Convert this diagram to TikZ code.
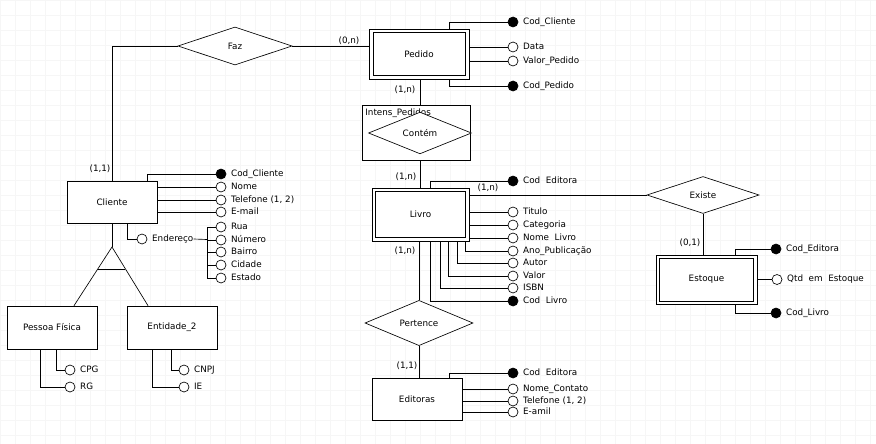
\documentclass[tikz,border=0pt]{standalone}
\usepackage{fontspec}
\setmainfont{DejaVu Sans}
\usetikzlibrary{shapes.geometric,shadows,calc}
\newcommand{\attrib}[5]{%
  \node[#4] (#1) at (#2,#3) {};
  \node[alabel] (#1t) at ([xshift=4.5pt]#1.east) {#5};
}
\begin{document}
\begin{tikzpicture}[x=1pt,y=-1pt, line width=0.65pt, font=\fontsize{8.8}{10}\selectfont,
  ent/.style={draw, fill=white, inner sep=0pt, drop shadow={shadow xshift=1.2pt, shadow yshift=-1.2pt, fill=black!55, opacity=1}},
  rel/.style={draw, fill=white, diamond, inner sep=0pt},
  pk/.style={circle, draw, fill=black, minimum size=10pt, inner sep=0pt},
  attrc/.style={circle, draw, fill=white, minimum size=10pt, inner sep=0pt},
  alabel/.style={anchor=west, inner sep=0pt, text height=6.3pt, text depth=1.6pt},
  card/.style={inner sep=0pt},
  gridc/.style={draw=black!3.5, line width=0.4pt}]
\useasboundingbox (0,0) rectangle (876,444);
\fill[white] (0,0) rectangle (876,444);
\foreach \i in {0,15,...,870} \draw[gridc] (\i,0) -- (\i,444);
\foreach \j in {0,15,...,435} \draw[gridc] (0,\j) -- (876,\j);

% ---------- entities ----------
\node[ent, minimum width=100pt, minimum height=50pt] (pedido) at (419,54) {};
\draw ([shift={(4.5pt,-4pt)}]pedido.north west) rectangle ([shift={(-4.5pt,4pt)}]pedido.south east);
\node at (pedido.center) {Pedido};

\node[ent, minimum width=90pt, minimum height=42pt] (cliente) at (112,202) {Cliente};
\node[ent, minimum width=90pt, minimum height=43pt] (pf) at (52,327.5) {Pessoa Física};
\node[ent, minimum width=90pt, minimum height=43pt] (ent2) at (172,327.5) {Entidade\_2};

\node[ent, minimum width=97pt, minimum height=53pt] (livro) at (420.5,214.5) {};
\draw ([shift={(4pt,-4pt)}]livro.north west) rectangle ([shift={(-4pt,4pt)}]livro.south east);
\node at (livro.center) {Livro};

\node[ent, minimum width=90pt, minimum height=42pt] (editoras) at (417,399) {Editoras};

\node[ent, minimum width=101pt, minimum height=49pt] (estoque) at (706.5,279.5) {};
\draw ([shift={(4pt,-3.5pt)}]estoque.north west) rectangle ([shift={(-4pt,3.5pt)}]estoque.south east);
\node at (estoque.center) {Estoque};

% ---------- relationships ----------
\node[rel, minimum width=114pt, minimum height=38pt] (faz) at (235,46) {Faz};
\node[draw, fill=white, minimum width=108pt, minimum height=55pt, inner sep=0pt] (intens) at (416,132.5) {};
\node[anchor=west, inner sep=0pt] (intenst) at (365,113) {Intens\_Pedidos};
\node[rel, minimum width=103pt, minimum height=36pt] (contem) at (420,133) {Contém};
\node[rel, minimum width=108pt, minimum height=38pt] (pertence) at (419,323) {Pertence};
\node[rel, minimum width=112pt, minimum height=37pt] (existe) at (703,195) {Existe};

% ---------- main connectors ----------
\draw (faz.east) -- (faz.east -| pedido.west);
\draw (faz.west) -| (cliente.north);
\draw (contem.north |- pedido.south) -- (contem.north |- intens.north);
\draw (contem.south |- intens.south) -- (contem.south |- livro.north);
\draw (pertence.north |- livro.south) -- (pertence.north);
\draw (pertence.south) -- (pertence.south |- editoras.north);
\draw (existe.west) -- (existe.west -| livro.east);
\draw (existe.south) -- (existe.south |- estoque.north);

% specialization
\coordinate (apex) at (112,247);
\coordinate (pftop) at ([xshift=22pt]pf.north);
\coordinate (e2top) at ([xshift=-24pt]ent2.north);
\draw (cliente.south) -- (apex);
\draw (pftop) -- (apex) -- (e2top);
\draw ($(apex)!0.373!(pftop)$) -- ($(apex)!0.373!(e2top)$);

% ---------- cardinalities ----------
\node[card] (k1) at (100,169) {(1,1)};
\node[card] (k2) at (349,41) {(0,n)};
\node[card] (k3) at (405,90) {(1,n)};
\node[card] (k4) at (406,177) {(1,n)};
\node[card] (k5) at (488,188) {(1,n)};
\node[card] (k6) at (405,251) {(1,n)};
\node[card] (k7) at (407,366) {(1,1)};
\node[card] (k8) at (690,243) {(0,1)};

% ---------- Pedido attributes ----------
\attrib{pcc}{513}{22}{pk}{Cod\_Cliente}
\attrib{pda}{513}{47}{attrc}{Data}
\attrib{pvp}{513}{61}{attrc}{Valor\_Pedido}
\attrib{pcp}{513}{86}{pk}{Cod\_Pedido}
\draw ([xshift=81pt]pedido.north west) |- (pcc);
\draw (pda) -- (pda -| pedido.east);
\draw (pvp) -- (pvp -| pedido.east);
\draw ([xshift=81pt]pedido.south west) |- (pcp);

% ---------- Cliente attributes ----------
\attrib{ccc}{221}{174}{pk}{Cod\_Cliente}
\attrib{cno}{221}{187}{attrc}{Nome}
\attrib{cte}{221}{200}{attrc}{Telefone (1, 2)}
\attrib{cem}{221}{212}{attrc}{E-mail}
\draw ([xshift=81pt]cliente.north west) |- (ccc);
\draw (cno) -- (cno -| cliente.east);
\draw (cte) -- (cte -| cliente.east);
\draw (cem) -- (cem -| cliente.east);
\attrib{cend}{142}{239}{attrc}{Endereço}
\draw ([xshift=61pt]cliente.south west) |- (cend);
\coordinate (bus) at (207,239.5);
\draw (cendt.east) -- (bus);
\attrib{rua}{221}{227}{attrc}{Rua}
\attrib{num}{221}{240}{attrc}{Número}
\attrib{bai}{221}{252}{attrc}{Bairro}
\attrib{cid}{221}{265}{attrc}{Cidade}
\attrib{est}{221}{278}{attrc}{Estado}
\foreach \a in {rua,num,bai,cid,est} \draw (\a.west) -| (bus);

% ---------- Pessoa Fisica / Entidade_2 ----------
\attrib{cpg}{70}{370}{attrc}{CPG}
\attrib{rg}{70}{387}{attrc}{RG}
\draw ([xshift=50pt]pf.south west) |- (cpg);
\draw ([xshift=34pt]pf.south west) |- (rg);
\attrib{cnpj}{184}{370}{attrc}{CNPJ}
\attrib{ie}{184}{387}{attrc}{IE}
\draw ([xshift=45pt]ent2.south west) |- (cnpj);
\draw ([xshift=26pt]ent2.south west) |- (ie);

% ---------- Livro attributes ----------
\attrib{lce}{513}{181}{pk}{Cod\ \ Editora}
\attrib{ltit}{513}{212}{attrc}{Titulo}
\attrib{lcat}{513}{225}{attrc}{Categoria}
\attrib{lnom}{513}{238}{attrc}{Nome\ \ Livro}
\attrib{lano}{513}{251}{attrc}{Ano\_Publicação}
\attrib{laut}{513}{263}{attrc}{Autor}
\attrib{lval}{513}{276}{attrc}{Valor}
\attrib{lisbn}{513}{288}{attrc}{ISBN}
\attrib{lcl}{513}{301}{pk}{Cod\ \ Livro}
\draw ([xshift=59pt]livro.north west) |- (lce);
\draw (ltit) -- (ltit -| livro.east);
\draw (lcat) -- (lcat -| livro.east);
\draw (lnom) -- (lnom -| livro.east);
\draw ([xshift=94pt]livro.south west) |- (lano);
\draw ([xshift=86pt]livro.south west) |- (laut);
\draw ([xshift=77pt]livro.south west) |- (lval);
\draw ([xshift=69pt]livro.south west) |- (lisbn);
\draw ([xshift=59pt]livro.south west) |- (lcl);

% ---------- Editoras attributes ----------
\attrib{ece}{513}{373}{pk}{Cod\ \ Editora}
\attrib{enc}{513}{389}{attrc}{Nome\_Contato}
\attrib{etel}{513}{401}{attrc}{Telefone (1, 2)}
\attrib{eem}{513}{412}{attrc}{E-amil}
\draw ([xshift=78pt]editoras.north west) |- (ece);
\draw (enc) -- (enc -| editoras.east);
\draw (etel) -- (etel -| editoras.east);
\draw (eem) -- (eem -| editoras.east);

% ---------- Estoque attributes ----------
\attrib{sce}{776}{249}{pk}{Cod\_Editora}
\attrib{sqt}{777}{279.5}{attrc}{Qtd\ \ em\ \ Estoque}
\attrib{scl}{776}{313}{pk}{Cod\_Livro}
\draw ([xshift=80pt]estoque.north west) |- (sce);
\draw (sqt) -- (sqt -| estoque.east);
\draw ([xshift=80pt]estoque.south west) |- (scl);
\end{tikzpicture}
\end{document}
